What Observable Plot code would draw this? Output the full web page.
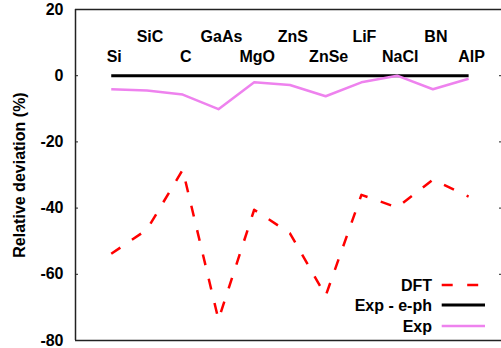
<!DOCTYPE html>
<html><head><meta charset="utf-8">
<script src="https://cdn.jsdelivr.net/npm/d3@7"></script>
<script src="https://cdn.jsdelivr.net/npm/@observablehq/plot@0.6"></script>
<style>body{margin:0;background:#fff} #chart{position:relative;width:501px;height:348px}</style>
</head><body><div id="chart"></div>
<script>
const materials = ["Si","SiC","C","GaAs","MgO","ZnS","ZnSe","LiF","NaCl","BN","AlP"];
const dft = [-53.8,-46.5,-28.4,-73.7,-40.5,-47.6,-66.5,-36.0,-39.8,-31.4,-36.5];
const expEph = [0,0,0,0,0,0,0,0,0,0,0];
const exp = [-4.1,-4.5,-5.7,-10.1,-2.0,-2.8,-6.2,-2.0,0,-4.1,-0.9];
const yTicks = [20,0,-20,-40,-60,-80];
const seriesNames = ["DFT","Exp - e-ph","Exp"];
const labelLevels = [5.8, 11.8];

const rows = materials.map((m,i)=>({m, i: i+1, dft: dft[i], eph: expEph[i], exp: exp[i], ly: labelLevels[i%2]}));

const font = "'Liberation Sans', Arial, Helvetica, sans-serif";
const plot = Plot.plot({
  width: 501, height: 348,
  marginLeft: 75, marginRight: 0, marginTop: 9, marginBottom: 8,
  style: {fontFamily: font, fontSize: "16px", fontWeight: "bold", color: "#000", background: "#fff", overflow: "visible"},
  x: {domain: [0, 11.92], axis: null},
  y: {domain: [-80, 20]},
  marks: [
    Plot.ruleY([20, -80], {stroke: "#222", strokeWidth: 1.5}),
    Plot.ruleX([0], {stroke: "#222", strokeWidth: 1.5}),
    Plot.axisY({anchor: "left", ticks: yTicks, tickSize: 0, tickPadding: 12, tickFormat: d => String(d), label: null}),
    Plot.axisY({anchor: "left", ticks: yTicks, tickSize: 3, dx: 3, tickFormat: () => "", label: null, stroke: "#222"}),
    Plot.axisY({anchor: "right", ticks: yTicks, tickSize: 3, dx: -3, tickFormat: () => "", label: null, stroke: "#222"}),
    Plot.text(["Relative deviation (%)"], {frameAnchor: "left", textAnchor: "middle", rotate: -90, dx: -56, fontSize: 16, fontWeight: "bold"}),
    Plot.line(rows, {x: "i", y: "dft", stroke: "#ff0000", strokeWidth: 2.5, strokeDasharray: "11,14", strokeLinecap: "butt"}),
    Plot.line(rows, {x: "i", y: "eph", stroke: "#000", strokeWidth: 3, strokeLinecap: "butt"}),
    Plot.line(rows, {x: "i", y: "exp", stroke: "#ee82ee", strokeWidth: 2.5, strokeLinecap: "butt"}),
    Plot.text(rows, {x: "i", y: "ly", text: "m", dx: 3, fontSize: 16, fontWeight: "bold"})
  ]
});
document.getElementById("chart").appendChild(plot);

// legend
const svg = d3.select(plot);
const legendStyles = [
  {stroke: "#ff0000", dash: "11,14.5", w: 2.5},
  {stroke: "#000000", dash: null, w: 3},
  {stroke: "#ee82ee", dash: null, w: 2.5}
];
const legendY = [285, 305, 326];
const lg = svg.append("g").attr("font-family", font).attr("font-size", 16).attr("font-weight", "bold");
seriesNames.forEach((name, k) => {
  lg.append("text").attr("x", 432).attr("y", legendY[k]).attr("dy", "0.35em")
    .attr("text-anchor", "end").attr("fill", "#000").text(name);
  const ln = lg.append("line").attr("x1", 441.7).attr("x2", 485)
    .attr("y1", legendY[k]).attr("y2", legendY[k])
    .attr("stroke", legendStyles[k].stroke).attr("stroke-width", legendStyles[k].w);
  if (legendStyles[k].dash) ln.attr("stroke-dasharray", legendStyles[k].dash);
});
</script></body></html>
